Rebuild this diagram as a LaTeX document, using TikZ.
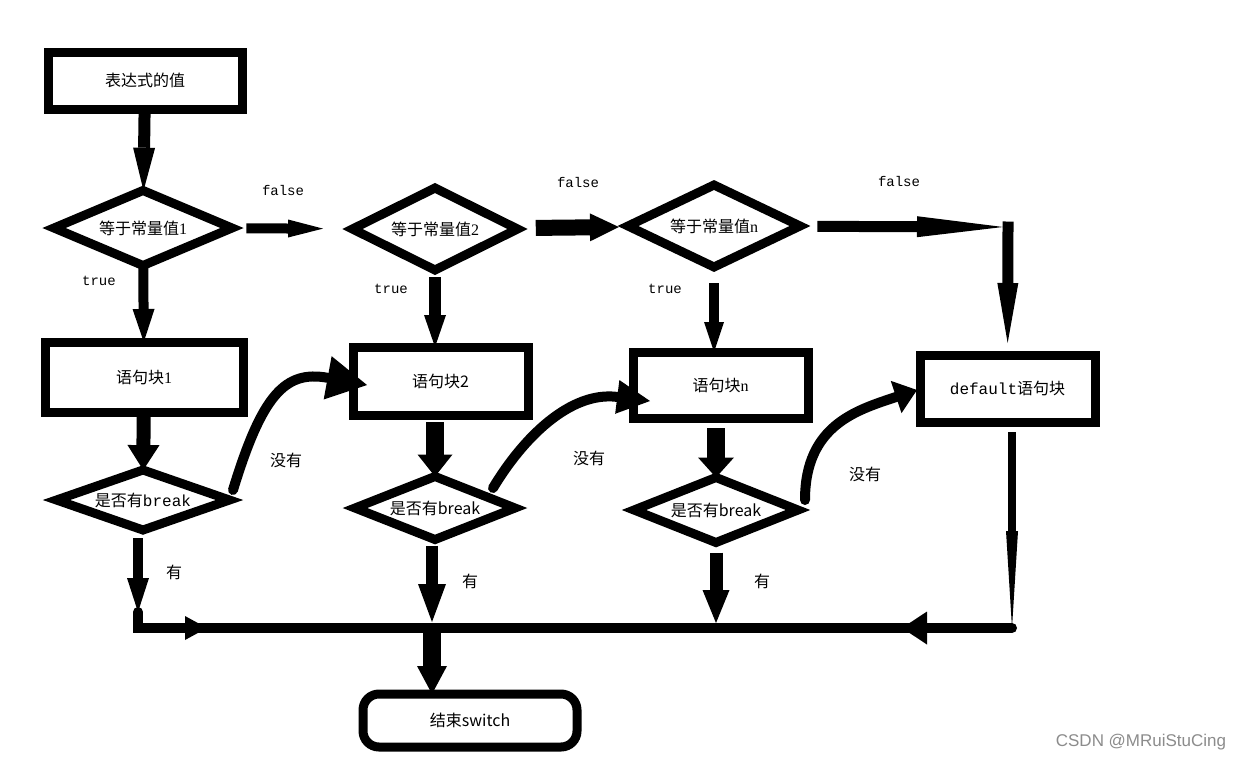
\documentclass[tikz,border=0pt]{standalone}
\usepackage{fontspec}
\setmainfont{Noto Sans CJK SC}
\setmonofont{Liberation Mono}
\setsansfont{Liberation Sans}
\newfontfamily\serifnum{Liberation Serif}
\usepackage{tikz}
\usetikzlibrary{shapes.geometric,arrows.meta,calc}

\begin{document}
\begin{tikzpicture}[x=0.5pt, y=-0.5pt,
  every node/.style={outer sep=0pt},
  txt/.style={font=\fontsize{8}{10}\selectfont},
  block/.style={draw, line width=4.5pt, inner sep=0pt, txt},
  test/.style={draw, diamond, aspect=2.5, line width=4.5pt, inner sep=0pt, txt},
  arr/.style n args={3}{line width=#1, -{Triangle[length=#2, width=#3, line width=0pt]}},
  bend/.style n args={2}{line width=5pt, line cap=round, -{Triangle[length=#1, width=#2, line width=0pt]}},
  tag/.style={font=\fontsize{7}{9}\selectfont\ttfamily},
  note/.style={txt}]

\path[fill=white] (0,0) rectangle (1236,761);

\node[block, minimum width=97pt, minimum height=28.5pt] (start) at (145,80.5) {表达式的值};
\node[test, minimum width=89pt, minimum height=37.5pt] (d1) at (143,228) {等于常量值{\serifnum 1}};
\node[test, minimum width=82.5pt, minimum height=41pt] (d2) at (435,229) {等于常量值{\serifnum 2}};
\node[test, minimum width=86pt, minimum height=41pt] (dn) at (714,226) {等于常量值{\serifnum n}};
\node[block, minimum width=99pt, minimum height=35pt] (b1) at (144,377) {语句块{\serifnum 1}};
\node[block, minimum width=87.5pt, minimum height=34pt] (b2) at (440.5,381) {语句块2};
\node[block, minimum width=87.5pt, minimum height=33pt] (bn) at (720.5,385) {语句块{\serifnum n}};
\node[block, minimum width=87.5pt, minimum height=33.5pt] (dflt) at (1007.5,388.5) {{\ttfamily default}语句块};
\node[test, minimum width=86.5pt, minimum height=30pt] (br1) at (143,500) {是否有{\ttfamily break}};
\node[test, minimum width=80pt, minimum height=31.5pt] (br2) at (435,508) {是否有break};
\node[test, minimum width=82pt, minimum height=32.5pt] (brn) at (716,510) {是否有break};
\node[block, rounded corners=8pt, minimum width=107pt, minimum height=26.5pt] (stop) at (470,720.5) {结束switch};

\coordinate (fcorner) at (1008,227);
\coordinate (j1) at (138,612);
\coordinate (busL) at (138,628);
\coordinate (busA) at (207,628);
\coordinate (busM) at (432,628);
\coordinate (busN) at (716,628);
\coordinate (busB) at (902,628);
\coordinate (busR) at (1012,628);

\draw[arr={6pt}{21.5pt}{11pt}] (start) -- (d1);
\draw[arr={5pt}{16.5pt}{11pt}] (d1) -- (b1);
\draw[arr={7pt}{12.5pt}{16pt}, shorten <=2.5pt] (b1) -- (br1);
\draw[arr={5pt}{17.5pt}{9pt}, shorten <=7.5pt, shorten >=15pt] (d1) -- (d2);
\draw[arr={8pt}{14.5pt}{14pt}, shorten <=10pt, shorten >=5.5pt] (d2) -- (dn);
\draw[arr={5.5pt}{43pt}{10.5pt}, shorten <=9pt, shorten >=2.5pt] (dn) -- (fcorner);
\draw[arr={5.5pt}{30pt}{10.5pt}, line cap=rect, shorten >=6pt] (fcorner) -- (dflt);

\draw[arr={6pt}{16pt}{11pt}, shorten <=3.5pt] (d2.south) -- (d2.south |- b2.north);
\draw[arr={9pt}{11pt}{17.5pt}, shorten <=3.5pt] (br2.north |- b2.south) -- (br2.north);
\draw[arr={5pt}{15pt}{10pt}, shorten <=8pt] (dn.south) -- (dn.south |- bn.north);
\draw[arr={9pt}{10pt}{18pt}, shorten <=5pt] (brn.north |- bn.south) -- (brn.north);

\draw[bend={20pt}{22pt}] ($(br1.east)+(3.5,-10)$) .. controls +(29,-95) and +(-82,-15) .. ($(b2.west)+(14,4)$);
\draw[bend={16.5pt}{17pt}] ($(br2.east)+(-22,-20)$) .. controls +(30,-50) and +(-80,-10) .. ($(bn.west)+(17,16)$);
\draw[bend={11pt}{17pt}] ($(brn.east)+(7,-10)$) .. controls +(0,-75) and +(-60,20) .. ($(dflt.west)+(-3,1.5)$);

\draw[arr={5pt}{17pt}{11pt}, shorten <=4pt] (br1.south -| j1) -- (j1);
\draw[line width=5pt, line cap=round] (j1) -- (busL) -- (busR);
\draw[arr={5pt}{11pt}{12pt}] (busL) -- (busA);
\draw[arr={5pt}{12.5pt}{16.5pt}] (busR) -- (busB);
\draw[arr={6pt}{19pt}{14pt}, shorten <=3pt, shorten >=3pt] (br2.south -| busM) -- (busM);
\draw[arr={6.5pt}{16.5pt}{13.5pt}, shorten <=5pt, shorten >=2.5pt] (brn) -- (busN);
\draw[arr={9pt}{14pt}{15pt}] (busM) -- (busM |- stop.north);
\draw[arr={4pt}{48.5pt}{6pt}, shorten <=5pt] (dflt.south -| busR) -- (busR);

\node[tag] (f1) at (283,190) {false};
\node[tag] (f2) at (578,182) {false};
\node[tag] (f3) at (899,181) {false};
\node[tag] (t1) at (99,281) {true};
\node[tag] (t2) at (391,289) {true};
\node[tag] (t3) at (665,289) {true};
\node[note] (n1) at (286,460) {没有};
\node[note] (n2) at (589,458) {没有};
\node[note] (n3) at (865,474) {没有};
\node[note] (y1) at (174,572) {有};
\node[note] (y2) at (470,581) {有};
\node[note] (y3) at (762,581) {有};
\node[font=\sffamily\fontsize{8.5}{10}\selectfont, text=black!45] (mark) at (1141,742) {CSDN @MRuiStuCing};

\end{tikzpicture}
\end{document}
